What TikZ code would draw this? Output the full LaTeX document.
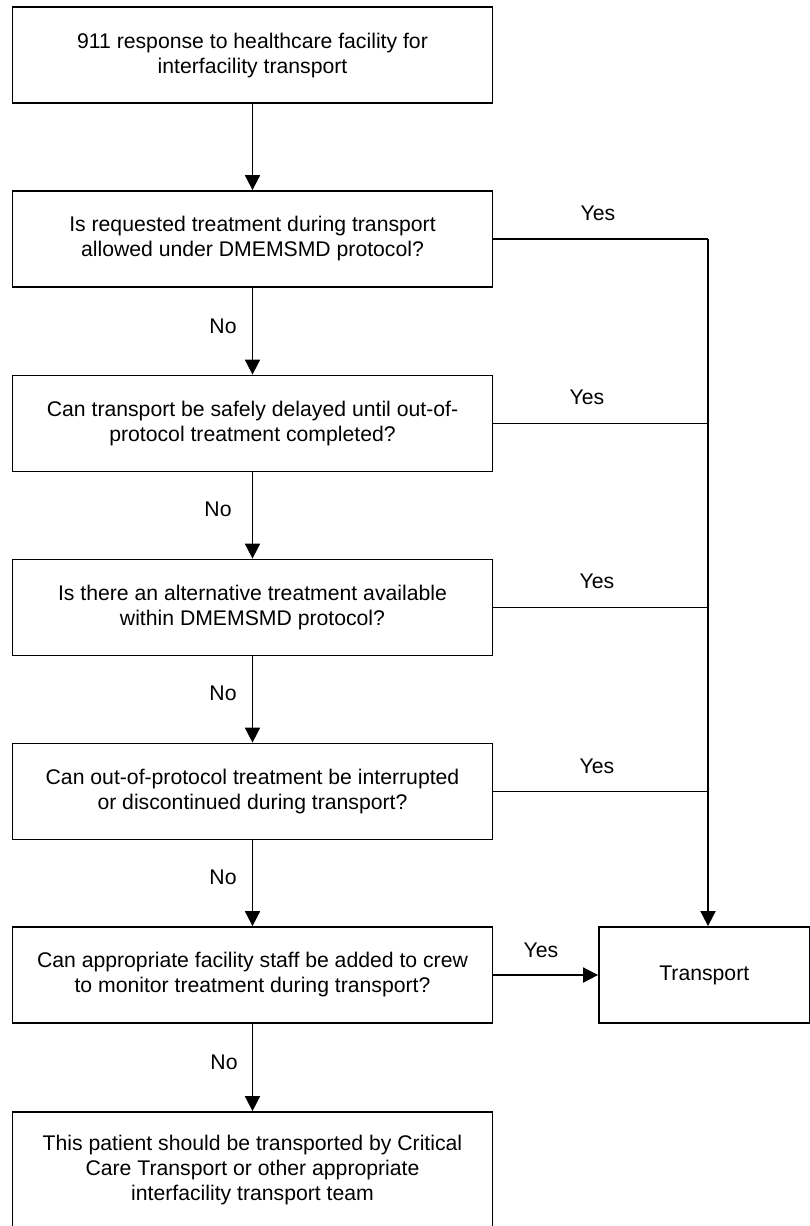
\documentclass[tikz,border=0pt]{standalone}
\usepackage{fontspec}
\setmainfont{Liberation Sans}
\usetikzlibrary{arrows.meta}
\begin{document}
\begin{tikzpicture}[x=1pt,y=-1pt,
  box/.style={draw,line width=1.8pt,rectangle,inner sep=0pt,align=center,
    minimum width=480pt,minimum height=96pt,
    font=\fontsize{21.2}{25}\selectfont},
  lbl/.style={inner sep=0pt,font=\fontsize{21.2}{25}\selectfont},
  conn/.style={line width=1.8pt},
  arr/.style={line width=1.8pt,-{Triangle[length=15pt,width=15pt]}}]
\useasboundingbox (0,0) rectangle (809,1226);
\node[box] (s) at (252.5,55.3) {911 response to healthcare facility for\\interfacility transport};
\node[box] (q1) at (252.5,239) {Is requested treatment during transport\\allowed under DMEMSMD protocol?};
\node[box] (q2) at (252.5,423.5) {Can transport be safely delayed until out-of-\\protocol treatment completed?};
\node[box] (q3) at (252.5,607.5) {Is there an alternative treatment available\\within DMEMSMD protocol?};
\node[box] (q4) at (252.5,791.5) {Can out-of-protocol treatment be interrupted\\or discontinued during transport?};
\node[box] (q5) at (252.5,975) {Can appropriate facility staff be added to crew\\to monitor treatment during transport?};
\node[box,minimum height=116pt] (cc) at (252.5,1170) {This patient should be transported by Critical\\Care Transport or other appropriate\\interfacility transport team};
\node[box,minimum width=210.5pt] (tr) at (704.25,975) {Transport};
\coordinate (trunk) at (708,239);
% vertical flow
\draw[arr] (s) -- (q1);
\draw[arr] (q1) -- (q2);
\draw[arr] (q2) -- (q3);
\draw[arr] (q3) -- (q4);
\draw[arr] (q4) -- (q5);
\draw[arr] (q5) -- (cc);
% yes branches
\draw[conn] (q1.east) -- (trunk);
\draw[arr] (trunk) -- (trunk |- tr.north);
\draw[conn] (q2.east) -- (q2.east -| trunk);
\draw[conn] (q3.east) -- (q3.east -| trunk);
\draw[conn] (q4.east) -- (q4.east -| trunk);
\draw[arr] (q5.east) -- (tr.west);
% labels
\node[lbl] (y1) at (598,213) {Yes};
\node[lbl] (y2) at (587,397) {Yes};
\node[lbl] (y3) at (597,581.5) {Yes};
\node[lbl] (y4) at (597,766) {Yes};
\node[lbl] (y5) at (541,950) {Yes};
\node[lbl] (n1) at (223,326) {No};
\node[lbl] (n2) at (218,509) {No};
\node[lbl] (n3) at (223,693) {No};
\node[lbl] (n4) at (223,877) {No};
\node[lbl] (n5) at (224,1062) {No};
\end{tikzpicture}
\end{document}
